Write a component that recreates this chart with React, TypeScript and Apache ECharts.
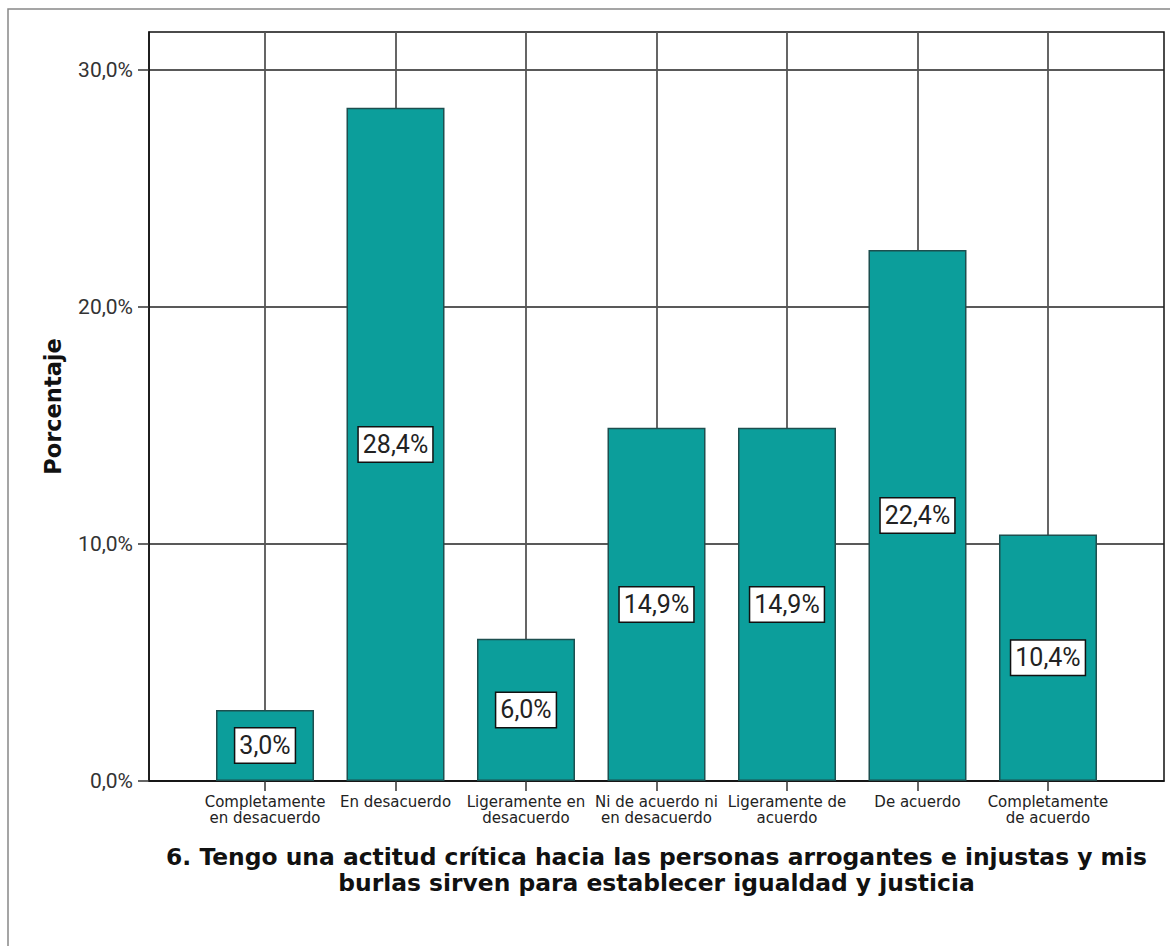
import React, { useEffect, useRef } from "react";
import * as echarts from "echarts";

const categories = [
  "Completamente\nen desacuerdo",
  "En desacuerdo",
  "Ligeramente en\ndesacuerdo",
  "Ni de acuerdo ni\nen desacuerdo",
  "Ligeramente de\nacuerdo",
  "De acuerdo",
  "Completamente\nde acuerdo",
];
const percentages = [3.0, 28.4, 6.0, 14.9, 14.9, 22.4, 10.4];
const categoryPositions = [1, 2, 3, 4, 5, 6, 7];
const yTicks = [0, 10, 20, 30];
const yAxisTitle = "Porcentaje";
const chartTitle =
  "6. Tengo una actitud crítica hacia las personas arrogantes e injustas y mis\nburlas sirven para establecer igualdad y justicia";

const fmt = (v: number) => v.toFixed(1).replace(".", ",") + "%";

export default function App() {
  const ref = useRef<HTMLDivElement>(null);
  useEffect(() => {
    document.body.style.margin = "0";
    const chart = echarts.init(ref.current!, null, { renderer: "svg" });
    chart.setOption({
      animation: false,
      backgroundColor: "#ffffff",
      grid: {
        left: 149,
        top: 32,
        right: 6,
        bottom: 165,
        show: true,
        borderColor: "#111",
        borderWidth: 1.5,
        backgroundColor: "transparent",
      },
      graphic: [
        {
          type: "rect",
          shape: { x: 8, y: 9, width: 1200, height: 1000 },
          style: { fill: "none", stroke: "#888", lineWidth: 1.5 },
          silent: true,
          z: 0,
        },
      ],
      xAxis: {
        type: "value",
        min: 0.111,
        max: 7.889,
        name: chartTitle,
        nameLocation: "middle",
        nameGap: 63,
        nameTextStyle: {
          fontFamily: "DejaVu Sans",
          fontWeight: "bold",
          fontSize: 23.4,
          lineHeight: 26,
          color: "#111",
          align: "center",
        },
        axisLine: { show: true, lineStyle: { color: "#111", width: 1.5 } },
        axisTick: {
          show: true,
          customValues: categoryPositions,
          length: 10,
          lineStyle: { color: "#333", width: 1.5 },
        },
        axisLabel: {
          customValues: categoryPositions,
          formatter: (v: number) => categories[Math.round(v) - 1] ?? "",
          fontFamily: "DejaVu Sans",
          fontSize: 15,
          lineHeight: 16,
          color: "#222",
          margin: 13,
        },
        splitLine: { show: true, lineStyle: { color: "#555", width: 1.8 } },
      },
      yAxis: {
        type: "value",
        min: 0,
        max: 31.6,
        name: yAxisTitle,
        nameLocation: "middle",
        nameGap: 85,
        nameRotate: 90,
        nameTextStyle: {
          fontFamily: "DejaVu Sans",
          fontWeight: "bold",
          fontSize: 22.5,
          color: "#111",
        },
        axisLine: { show: true, lineStyle: { color: "#111", width: 1.5 } },
        axisTick: {
          show: true,
          customValues: yTicks,
          length: 11,
          lineStyle: { color: "#333", width: 1.5 },
        },
        axisLabel: {
          customValues: yTicks,
          formatter: (v: number) => fmt(v),
          fontFamily: "Roboto",
          fontSize: 21,
          color: "#333",
          margin: 16,
        },
        splitLine: { show: true, lineStyle: { color: "#222", width: 1.5 } },
      },
      series: [
        {
          type: "bar",
          data: categoryPositions.map((x, i) => [x, percentages[i]]),
          barWidth: 98,
          itemStyle: {
            color: "#0c9e9b",
            borderColor: "#1d4f4f",
            borderWidth: 1.5,
          },
          label: {
            show: true,
            position: "inside",
            formatter: (p: any) => fmt(p.value[1]),
            fontFamily: "Roboto",
            fontSize: 25,
            lineHeight: 27,
            color: "#222",
            backgroundColor: "#ffffff",
            borderColor: "#111",
            borderWidth: 1.5,
            padding: [4, 4, 3, 4],
          },
          z: 3,
        },
      ],
    });
    return () => chart.dispose();
  }, []);
  return <div ref={ref} style={{ width: 1170, height: 946 }} />;
}
